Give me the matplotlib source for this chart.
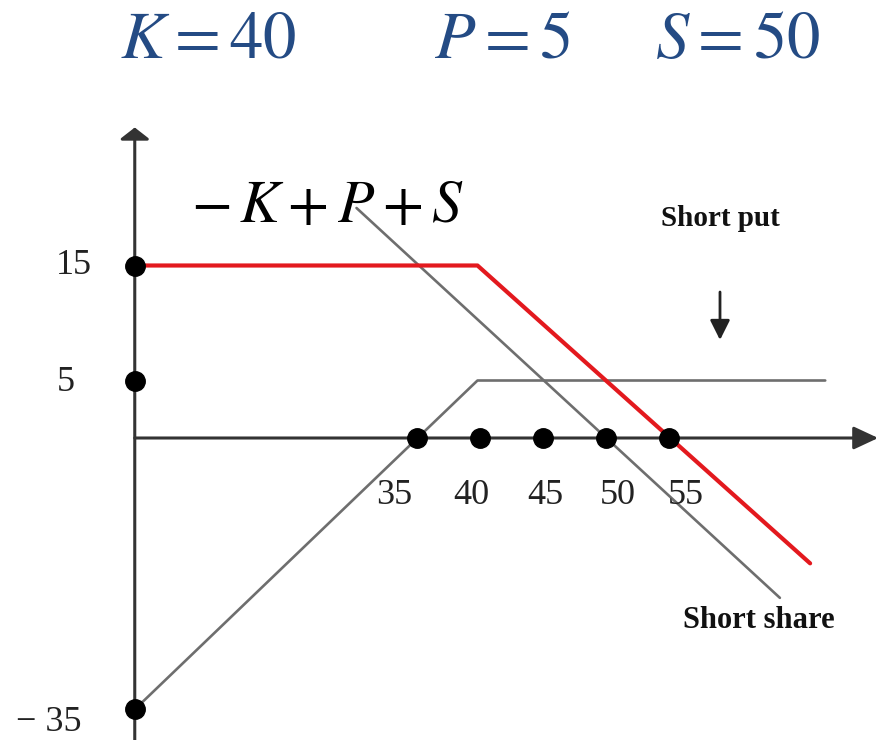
import matplotlib
matplotlib.use("Agg")
import matplotlib.pyplot as plt

plt.rcParams['mathtext.fontset'] = 'stix'
plt.rcParams['font.family'] = ['Liberation Serif', 'DejaVu Serif']

# ---- data ----
axis_S = 12.6                      # where the vertical axis sits on the price scale
red_x = [12.6, 39.8, 66.2]         # combined position (short put + short share)
red_y = [15, 15, -10.9]
put_x = [12.6, 39.8, 67.4]         # short put
put_y = [-23.6, 5, 5]
share_x = [30.2, 63.8]             # short share
share_y = [20.0, -13.9]

x_dots = [35, 40, 45, 50, 55]
x_tick_labels = ['35', '40', '45', '50', '55']
y_dots = [15, 5, -23.6]
y_tick_labels = ['15', '5', '\u2212 35']

title_parts = [r'$K = 40$', r'$P = 5$', r'$S = 50$']
formula = r'$-\,K + P + S$'

# ---- figure ----
W, H = 883, 740
fig = plt.figure(figsize=(W / 100, H / 100), dpi=100)
ax = fig.add_axes([0, 0, 1, 1])
# pixel mapping: x: 40 -> 480 px, 12.6 px/unit ; y: 0 -> 438 px, 11.5 px/unit
ax.set_xlim(40 - 480 / 12.6, 40 + (W - 480) / 12.6)
ax.set_ylim(-(H - 438) / 11.5, 438 / 11.5)
ax.axis('off')

axc = '#333333'
# axes with arrows
ax.annotate('', xy=(axis_S, 27.0), xytext=(axis_S, -27),
            arrowprops=dict(arrowstyle='-|>,head_length=0.35,head_width=0.45',
                            lw=2.2, color=axc, mutation_scale=20, shrinkA=0, shrinkB=0))
ax.annotate('', xy=(71.6, 0), xytext=(axis_S, 0),
            arrowprops=dict(arrowstyle='-|>,head_length=0.75,head_width=0.35',
                            lw=2.2, color=axc, mutation_scale=20, shrinkA=0, shrinkB=0))

gray = '#6e6e6e'
ax.plot(put_x, put_y, color=gray, lw=1.9, solid_capstyle='round', zorder=3)
ax.plot(share_x, share_y, color=gray, lw=1.9, solid_capstyle='round', zorder=3)
ax.plot(red_x, red_y, color='#e3191e', lw=3.0, solid_capstyle='round', zorder=4)

# dots
ax.plot(x_dots, [0] * len(x_dots), 'o', color='black', ms=14, zorder=5)
ax.plot([axis_S] * len(y_dots), y_dots, 'o', color='black', ms=14, zorder=5)

# tick labels
x_label_dx = [-23, -9, 2, 12, 17]   # pixel offsets of the hand-placed labels
for xv, lab, dx in zip(x_dots, x_tick_labels, x_label_dx):
    ax.text(xv + dx / 12.6, -57 / 11.5, lab, fontsize=26, ha='center', va='center',
            color='#222222')
y_label_right = [92, 75, 82]
y_label_dy = [0, 2, 13]
for yv, lab, xr, dy in zip(y_dots, y_tick_labels, y_label_right, y_label_dy):
    ax.text(40 + (xr - 480) / 12.6, yv - dy / 11.5, lab, fontsize=26,
            ha='right', va='center', color='#222222')

# annotations
ax.text(40 + (720 - 480) / 12.6, (438 - 218) / 11.5, 'Short put', fontsize=21,
        fontweight='bold', ha='center', va='center', color='#111111')
ax.annotate('', xy=(40 + (720 - 480) / 12.6, (438 - 340) / 11.5),
            xytext=(40 + (720 - 480) / 12.6, (438 - 292) / 11.5),
            arrowprops=dict(arrowstyle='-|>,head_length=0.6,head_width=0.3',
                            lw=2.0, color='#222222', mutation_scale=20, shrinkA=0, shrinkB=0))
ax.text(40 + (759 - 480) / 12.6, (438 - 621) / 11.5, 'Short share', fontsize=22,
        fontweight='bold', ha='center', va='center', color='#111111')

ax.text(40 + (328 - 480) / 12.6, (438 - 222) / 11.5, formula, fontsize=43,
        ha='center', va='baseline', color='black', zorder=6)

# title
tcol = '#244b84'
for part, cx in zip(title_parts, [208, 502, 738]):
    fig.text(cx / W, 1 - 58 / H, part, fontsize=48, ha='center', va='baseline',
             color=tcol)

fig.savefig('out.png', dpi=100)
